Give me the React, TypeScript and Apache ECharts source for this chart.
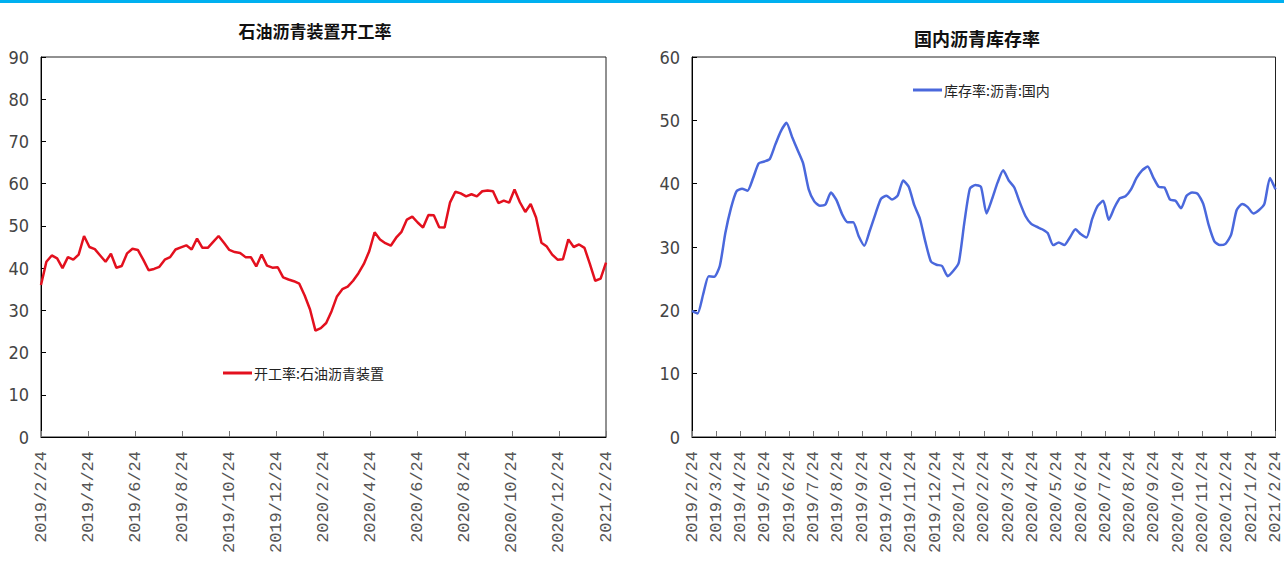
import React, { useEffect, useRef } from "react";
import * as echarts from "echarts";

const leftTitle = "石油沥青装置开工率";
const rightTitle = "国内沥青库存率";
const leftSeriesName = "开工率:石油沥青装置";
const rightSeriesName = "库存率:沥青:国内";

const leftTickLabels = [
  "2019/2/24", "2019/4/24", "2019/6/24", "2019/8/24", "2019/10/24", "2019/12/24",
  "2020/2/24", "2020/4/24", "2020/6/24", "2020/8/24", "2020/10/24", "2020/12/24", "2021/2/24",
];

const rightTickLabels = [
  "2019/2/24", "2019/3/24", "2019/4/24", "2019/5/24", "2019/6/24", "2019/7/24",
  "2019/8/24", "2019/9/24", "2019/10/24", "2019/11/24", "2019/12/24",
  "2020/1/24", "2020/2/24", "2020/3/24", "2020/4/24", "2020/5/24", "2020/6/24",
  "2020/7/24", "2020/8/24", "2020/9/24", "2020/10/24", "2020/11/24", "2020/12/24",
  "2021/1/24", "2021/2/24",
];

const operatingRate = [
  36.0, 41.5, 43.0, 42.3, 40.0, 42.6, 42.0, 43.2, 47.6, 45.0,
  44.5, 43.0, 41.5, 43.4, 40.1, 40.5, 43.5, 44.6, 44.3, 42.0,
  39.5, 39.8, 40.3, 42.0, 42.6, 44.4, 44.9, 45.4, 44.4, 47.0,
  44.8, 44.8, 46.2, 47.6, 46.0, 44.3, 43.8, 43.6, 42.6, 42.6,
  40.4, 43.2, 40.6, 40.1, 40.2, 37.8, 37.3, 36.9, 36.3, 33.5,
  30.2, 25.2, 25.8, 27.0, 29.8, 33.3, 35.0, 35.6, 37.0, 38.8,
  41.0, 44.0, 48.5, 46.8, 45.9, 45.3, 47.2, 48.6, 51.5, 52.2,
  50.8, 49.6, 52.6, 52.5, 49.7, 49.6, 55.5, 58.1, 57.7, 57.0,
  57.5, 57.0, 58.2, 58.4, 58.2, 55.4, 56.0, 55.5, 58.6, 55.6,
  53.3, 55.2, 52.0, 46.0, 45.1, 43.2, 42.0, 42.1, 46.8, 45.0,
  45.6, 44.8, 41.0, 37.0, 37.5, 41.3,
];

const inventoryRate = [
  19.9, 19.5, 22.5, 25.4, 25.3, 27.0, 32.2, 36.1, 38.8, 39.2,
  38.9, 40.9, 43.2, 43.5, 43.9, 46.2, 48.3, 49.6, 47.4, 45.3,
  43.2, 39.1, 37.2, 36.5, 36.7, 38.6, 37.4, 35.2, 33.9, 33.9,
  31.7, 30.2, 32.6, 35.2, 37.6, 38.1, 37.5, 38.1, 40.5, 39.5,
  36.6, 34.5, 30.8, 27.7, 27.2, 27.0, 25.4, 26.2, 27.5, 33.8,
  39.2, 39.8, 39.5, 35.3, 37.6, 40.2, 42.1, 40.5, 39.4, 37.0,
  34.9, 33.7, 33.2, 32.8, 32.2, 30.3, 30.7, 30.3, 31.5, 32.8,
  32.0, 31.5, 34.4, 36.5, 37.3, 34.3, 36.2, 37.7, 38.0, 39.1,
  40.9, 42.1, 42.7, 41.0, 39.5, 39.4, 37.5, 37.3, 36.1, 38.1,
  38.6, 38.4, 36.8, 33.4, 30.9, 30.3, 30.5, 31.9, 35.8, 36.8,
  36.3, 35.3, 35.8, 36.8, 40.9, 39.1,
];

// weekly observation dates, starting 2019/2/24
function weeklyDates(n: number): string[] {
  const out: string[] = [];
  const start = Date.UTC(2019, 1, 24);
  for (let i = 0; i < n; i++) {
    const d = new Date(start + i * 7 * 86400000);
    out.push(`${d.getUTCFullYear()}/${d.getUTCMonth() + 1}/${d.getUTCDate()}`);
  }
  return out;
}

const CJK = "'Noto Sans CJK SC', sans-serif";
const NUM = "'Liberation Sans Narrow', 'DejaVu Sans Condensed', 'Liberation Sans', sans-serif";
const MONO = "'Liberation Mono', 'DejaVu Sans Mono', monospace";

const RED = "#e3101e";
const BLUE = "#4a68dc";

function dataAxis(gridIndex: number, n: number) {
  return {
    gridIndex,
    type: "category",
    data: weeklyDates(n),
    boundaryGap: false,
    show: false,
  };
}

function labelAxis(gridIndex: number, labels: string[]) {
  return {
    gridIndex,
    type: "category",
    data: labels,
    boundaryGap: false,
    position: "bottom",
    axisLine: { show: true, lineStyle: { color: "#000", width: 1 } },
    axisTick: { show: true, inside: true, length: 6, alignWithLabel: true, lineStyle: { color: "#777" } },
    axisLabel: {
      interval: 0,
      rotate: 90,
      margin: 14,
      fontFamily: MONO,
      fontSize: 17,
      color: "#555",
      hideOverlap: false,
    },
    splitLine: { show: false },
  };
}

function valueAxis(gridIndex: number, max: number) {
  return {
    gridIndex,
    type: "value",
    min: 0,
    max,
    interval: 10,
    axisLine: { show: true, lineStyle: { color: "#000", width: 1 } },
    axisTick: { show: true, inside: true, length: 5, lineStyle: { color: "#000" } },
    axisLabel: { margin: 12, fontFamily: NUM, fontSize: 18, color: "#444" },
    splitLine: { show: false },
  };
}

export default function App() {
  const ref = useRef<HTMLDivElement>(null);

  useEffect(() => {
    if (!ref.current) return;
    const chart = echarts.init(ref.current, null, { renderer: "svg" });
    chart.setOption({
      animation: false,
      backgroundColor: "#fff",
      title: [
        {
          text: leftTitle,
          left: 310,
          top: 17,
          textAlign: "center",
          textStyle: { fontFamily: CJK, fontSize: 17, fontWeight: "bold", color: "#111" },
        },
        {
          text: rightTitle,
          left: 972,
          top: 24,
          textAlign: "center",
          textStyle: { fontFamily: CJK, fontSize: 18, fontWeight: "bold", color: "#111" },
        },
      ],
      legend: [
        {
          data: [leftSeriesName],
          left: 218,
          top: 361,
          icon: "rect",
          itemWidth: 29,
          itemHeight: 3,
          textStyle: { fontFamily: CJK, fontSize: 14, color: "#222", padding: [0, 0, 0, -3] },
        },
        {
          data: [rightSeriesName],
          left: 908,
          top: 78,
          icon: "rect",
          itemWidth: 29,
          itemHeight: 3,
          textStyle: { fontFamily: CJK, fontSize: 14, color: "#222", padding: [0, 0, 0, -3] },
        },
      ],
      grid: [
        { left: 41, top: 57, width: 565, height: 380, show: true, borderColor: "#222", borderWidth: 1, backgroundColor: "transparent" },
        { left: 692, top: 57, width: 587, height: 380, show: true, borderColor: "#222", borderWidth: 1, backgroundColor: "transparent" },
      ],
      xAxis: [
        dataAxis(0, operatingRate.length),
        labelAxis(0, leftTickLabels),
        dataAxis(1, inventoryRate.length),
        labelAxis(1, rightTickLabels),
      ],
      yAxis: [valueAxis(0, 90), valueAxis(1, 60)],
      series: [
        {
          name: leftSeriesName,
          type: "line",
          xAxisIndex: 0,
          yAxisIndex: 0,
          data: operatingRate,
          symbol: "none",
          lineStyle: { color: RED, width: 2.5 },
          itemStyle: { color: RED },
        },
        {
          name: rightSeriesName,
          type: "line",
          xAxisIndex: 2,
          yAxisIndex: 1,
          data: inventoryRate,
          symbol: "none",
          smooth: 0.2,
          lineStyle: { color: BLUE, width: 2.5 },
          itemStyle: { color: BLUE },
        },
      ],
      graphic: [
        {
          type: "rect",
          left: 0,
          top: 0,
          shape: { x: 0, y: 0, width: 1284, height: 3 },
          style: { fill: "#00b0f0" },
        },
      ],
    });
    return () => chart.dispose();
  }, []);

  return (
    <div
      ref={ref}
      style={{ position: "absolute", left: 0, top: 0, width: 1284, height: 570, background: "#fff" }}
    />
  );
}
